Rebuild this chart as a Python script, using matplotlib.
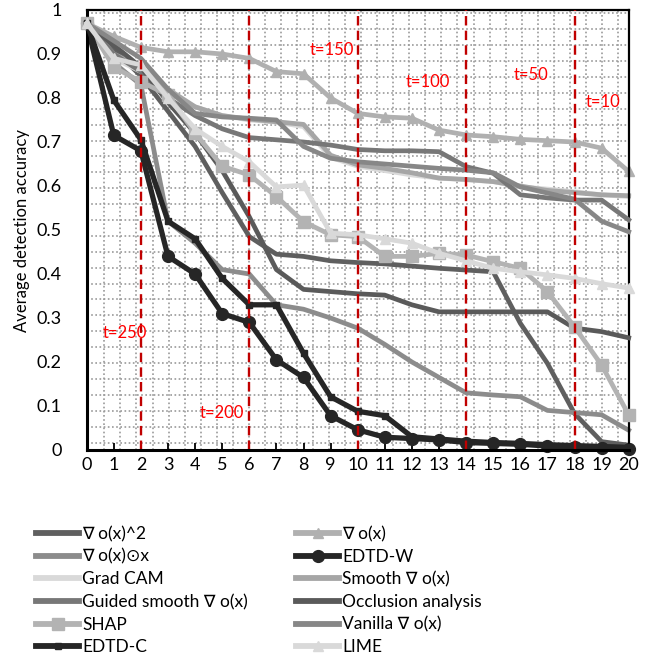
import numpy as np
import matplotlib.pyplot as plt
from matplotlib.lines import Line2D

plt.rcParams['font.family'] = ['Lato', 'DejaVu Sans']

steps = np.arange(0, 21)

# values, one per step 0..20
grad_sq = [0.97, 0.91, 0.85, 0.77, 0.69, 0.585, 0.485, 0.445, 0.44, 0.43, 0.426, 0.423, 0.418,
           0.413, 0.409, 0.405, 0.288, 0.197, 0.083, 0.019, 0.011]
grad = [0.97, 0.94, 0.915, 0.905, 0.905, 0.90, 0.89, 0.86, 0.855, 0.80, 0.765, 0.757, 0.754,
        0.727, 0.716, 0.712, 0.706, 0.703, 0.70, 0.686, 0.633]
grad_x_input = [0.97, 0.88, 0.83, 0.52, 0.47, 0.41, 0.40, 0.33, 0.32, 0.30, 0.277, 0.24, 0.20,
                0.165, 0.13, 0.125, 0.121, 0.09, 0.085, 0.08, 0.045]
edtd_w = [0.97, 0.715, 0.68, 0.44, 0.40, 0.31, 0.29, 0.205, 0.165, 0.078, 0.046, 0.029, 0.026,
          0.023, 0.017, 0.015, 0.013, 0.009, 0.006, 0.004, 0.003]
grad_cam = [0.97, 0.89, 0.86, 0.81, 0.78, 0.76, 0.75, 0.745, 0.735, 0.665, 0.645, 0.635, 0.625,
            0.618, 0.614, 0.61, 0.598, 0.593, 0.587, 0.58, 0.576]
smooth = [0.97, 0.90, 0.87, 0.82, 0.78, 0.76, 0.752, 0.746, 0.74, 0.67, 0.648, 0.64, 0.63,
          0.618, 0.615, 0.61, 0.60, 0.59, 0.585, 0.58, 0.578]
guided_smooth = [0.97, 0.90, 0.86, 0.80, 0.76, 0.73, 0.71, 0.705, 0.70, 0.693, 0.683, 0.68, 0.68,
                 0.678, 0.644, 0.629, 0.58, 0.573, 0.568, 0.568, 0.523]
occlusion = [0.97, 0.92, 0.87, 0.79, 0.72, 0.635, 0.53, 0.41, 0.365, 0.36, 0.355, 0.352, 0.33,
             0.314, 0.314, 0.314, 0.314, 0.314, 0.277, 0.269, 0.255]
shap = [0.97, 0.87, 0.837, 0.807, 0.72, 0.645, 0.625, 0.576, 0.519, 0.489, 0.485, 0.44, 0.44,
        0.447, 0.443, 0.428, 0.413, 0.36, 0.28, 0.193, 0.08]
vanilla = [0.97, 0.93, 0.89, 0.82, 0.765, 0.757, 0.754, 0.75, 0.69, 0.663, 0.655, 0.65, 0.645,
           0.64, 0.636, 0.63, 0.598, 0.584, 0.57, 0.52, 0.496]
edtd_c = [0.97, 0.795, 0.705, 0.52, 0.48, 0.39, 0.33, 0.33, 0.22, 0.121, 0.088, 0.078, 0.03,
          0.025, 0.02, 0.017, 0.015, 0.012, 0.01, 0.008, 0.006]
lime = [0.97, 0.89, 0.875, 0.80, 0.73, 0.69, 0.655, 0.598, 0.602, 0.493, 0.489, 0.48, 0.47,
        0.447, 0.43, 0.413, 0.405, 0.398, 0.39, 0.378, 0.368]

t_positions = [2, 6, 10, 14, 18]
t_labels = ["t=250", "t=200", "t=150", "t=100", "t=50", "t=10"]
t_label_x = [1.42, 5.0, 9.05, 12.6, 16.4, 19.05]
t_label_y = [0.266, 0.084, 0.91, 0.836, 0.852, 0.79]

y_ticks = [0, 0.1, 0.2, 0.3, 0.4, 0.5, 0.6, 0.7, 0.8, 0.9, 1.0]
y_tick_labels = ["0", "0.1", "0.2", "0.3", "0.4", "0.5", "0.6", "0.7", "0.8", "0.9", "1"]

# (label, values, color, marker, markersize, linewidth) in drawing order
series = [
    ("\u2207 o(x)^2", grad_sq, "#5f5f5f", None, 0, 3.4),
    ("\u2207 o(x)", grad, "#b0b0b0", "^", 7, 3.4),
    ("\u2207 o(x)\u2299x", grad_x_input, "#8c8c8c", None, 0, 3.4),
    ("EDTD-W", edtd_w, "#262626", "o", 8.5, 3.8),
    ("Grad CAM", grad_cam, "#d9d9d9", None, 0, 3.4),
    ("Smooth \u2207 o(x)", smooth, "#a6a6a6", None, 0, 3.4),
    ("Guided smooth \u2207 o(x)", guided_smooth, "#777777", None, 0, 3.4),
    ("Occlusion analysis", occlusion, "#5a5a5a", None, 0, 3.4),
    ("SHAP", shap, "#b3b3b3", "s", 8.5, 3.4),
    ("Vanilla \u2207 o(x)", vanilla, "#878787", None, 0, 3.4),
    ("EDTD-C", edtd_c, "#262626", "s", 5, 3.8),
    ("LIME", lime, "#d9d9d9", "^", 7, 3.4),
]

fig = plt.figure(figsize=(6.57, 6.63), dpi=100)
ax = fig.add_axes([86.7 / 657, 1 - 450 / 663, 542 / 657, 440 / 663])

# dotted pattern fill of the plot area
for k in range(34):
    f = 1.6 / 542 + k * 16.05 / 542
    ax.plot([f, f], [0, 1], transform=ax.transAxes, color="#9a9a9a",
            lw=1.2, ls=(0, (1, 1.5)), zorder=0)
for k in range(28):
    f = 1 - 3.3 / 440 - k * 15.9 / 440
    ax.plot([0, 1], [f, f], transform=ax.transAxes, color="#9a9a9a",
            lw=1.2, ls=(0, (1, 1.5)), zorder=0)

handles = {}
for i, (name, vals, col, mk, ms, lw) in enumerate(series):
    ln, = ax.plot(steps, vals, color=col, lw=lw, marker=mk, markersize=ms,
                  markeredgecolor=col, markerfacecolor=col, clip_on=False,
                  zorder=2 + i * 0.1, label=name)
    handles[name] = ln

for xv in t_positions:
    ax.axvline(xv, color="#c00000", lw=1.7, ls=(0, (4, 2.2)), zorder=5)

for lab, tx, ty in zip(t_labels, t_label_x, t_label_y):
    ax.text(tx, ty, lab, color="red", fontsize=12, ha="center", va="center", zorder=6)

ax.set_xlim(0, 20)
ax.set_ylim(0, 1)
ax.set_xticks(steps)
ax.set_yticks(y_ticks)
ax.set_yticklabels(y_tick_labels)
ax.tick_params(axis="x", direction="in", length=5, width=1.3, labelsize=13, pad=5)
ax.tick_params(axis="y", length=0, labelsize=13, pad=18)
for sp in ax.spines.values():
    sp.set_linewidth(1.6)
    sp.set_color("black")
ax.spines["bottom"].set_linewidth(2.2)
ax.spines["left"].set_linewidth(2.2)
ax.spines["bottom"].set_zorder(7)
ax.set_ylabel("Average detection accuracy", fontsize=12, labelpad=5)

col1 = ["\u2207 o(x)^2", "\u2207 o(x)\u2299x", "Grad CAM", "Guided smooth \u2207 o(x)", "SHAP", "EDTD-C"]
col2 = ["\u2207 o(x)", "EDTD-W", "Smooth \u2207 o(x)", "Occlusion analysis", "Vanilla \u2207 o(x)", "LIME"]

for names, x0 in [(col1, 36 / 657), (col2, 296 / 657)]:
    hs = []
    for n in names:
        h = handles[n]
        hs.append(Line2D([], [], color=h.get_color(), lw=4.2, marker=h.get_marker(),
                         markersize=h.get_markersize(), markeredgecolor=h.get_color(),
                         markerfacecolor=h.get_color()))
    fig.legend(hs, names, loc="upper left", bbox_to_anchor=(x0, 1 - 526 / 663),
               frameon=False, fontsize=12.5, handlelength=2.5, handletextpad=0.15,
               labelspacing=0.38, borderpad=0, borderaxespad=0)

fig.savefig("out.png", dpi=100)
